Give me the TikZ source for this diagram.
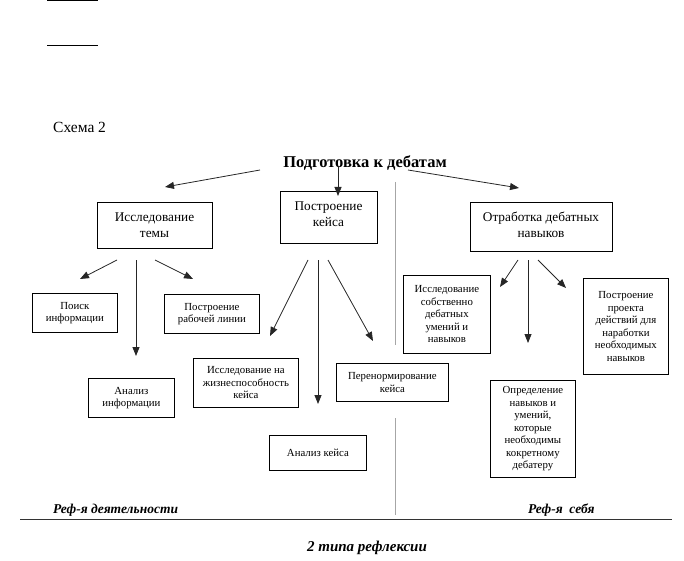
\documentclass[tikz,border=0pt]{standalone}
\usepackage{fontspec}
\setmainfont{Liberation Serif}
\usetikzlibrary{arrows.meta}
\tikzset{
  box/.style={draw, line width=0.8pt, fill=white, inner sep=0pt, anchor=north west},
  arr/.style={-{Triangle[length=9pt,width=7pt]}, line width=0.8pt, draw=black!85},
  tbig/.style={font=\fontsize{13.3}{16}\selectfont, align=center, inner sep=0pt, anchor=north},
  tsm/.style={font=\fontsize{10.8}{12.5}\selectfont, align=center},
  tital/.style={font=\fontsize{13.5}{15}\selectfont\bfseries\itshape, inner sep=0pt},
  sep/.style={draw=black!35, line width=0.7pt},
}
\begin{document}
\begin{tikzpicture}[x=1pt, y=-1pt]
\useasboundingbox (0,0) rectangle (684,561);
% top short lines
\coordinate (l1a) at (47,1); \coordinate (l1b) at (98,1);
\coordinate (l2a) at (47,46); \coordinate (l2b) at (98,46);
\draw[line width=1pt] (l1a) -- (l1b);
\draw[line width=1pt] (l2a) -- (l2b);
\node[font=\fontsize{15.5}{17}\selectfont, anchor=west, inner sep=0pt] (schema) at (53,127) {Схема 2};

% separator
\coordinate (s1a) at (395,182); \coordinate (s1b) at (395,345);
\coordinate (s2a) at (395,418); \coordinate (s2b) at (395,515);
\draw[sep] (s1a) -- (s1b);
\draw[sep] (s2a) -- (s2b);

% title
\node[font=\fontsize{16.5}{18}\selectfont\bfseries, inner sep=0pt] (title) at (365,163) {Подготовка к дебатам};

% level-1 boxes
\node[box, minimum width=115pt, minimum height=46pt] (temy) at (97,202) {};
\node[tbig] (temyt) at (154.5,213) {Исследование\\темы};
\node[box, minimum width=97pt, minimum height=52pt] (keys) at (280,191) {};
\node[tbig] (keyst) at (328.5,202) {Построение\\кейса};
\node[box, minimum width=142pt, minimum height=49pt] (otrab) at (470,202) {};
\node[tbig] (otrabt) at (541,212) {Отработка дебатных\\навыков};

% title arrows
\coordinate (a1s) at (260,170); \coordinate (a1e) at (165,187);
\coordinate (a2s) at (338,166); \coordinate (a2e) at (338,196);
\coordinate (a3s) at (408,170); \coordinate (a3e) at (519,188);
\draw[arr] (a1s) -- (a1e);
\draw[arr] (a2s) -- (a2e);
\draw[arr] (a3s) -- (a3e);

% level-2 boxes
\node[box, tsm, minimum width=85pt, minimum height=39pt] (poisk) at (32,293) {Поиск\\информации};
\node[box, tsm, minimum width=95pt, minimum height=39pt] (rabl) at (164,294) {Построение\\рабочей линии};
\node[box, tsm, minimum width=86pt, minimum height=39pt] (aninf) at (88,378) {Анализ\\информации};
\node[box, tsm, minimum width=105pt, minimum height=49pt] (zhizn) at (193,358) {Исследование на\\жизнеспособность\\кейса};
\node[box, tsm, minimum width=112pt, minimum height=38pt] (perenorm) at (336,363) {Перенормирование\\кейса};
\node[box, tsm, minimum width=97pt, minimum height=35pt] (ankeys) at (269,435) {Анализ кейса};
\node[box, tsm, minimum width=87pt, minimum height=78pt] (sobstv) at (403,275) {Исследование\\собственно\\дебатных\\умений и\\навыков};
\node[box, tsm, minimum width=85pt, minimum height=96pt] (proekt) at (583,278) {Построение\\проекта\\действий для\\наработки\\необходимых\\навыков};
\node[box, tsm, minimum width=85pt, minimum height=97pt] (opred) at (490,380) {Определение\\навыков и\\умений,\\которые\\необходимы\\кокретному\\дебатеру};

% arrows under temy
\coordinate (b1s) at (117,260); \coordinate (b1e) at (80,279);
\coordinate (b2s) at (136,260); \coordinate (b2e) at (136,356);
\coordinate (b3s) at (155,260); \coordinate (b3e) at (193,279);
\draw[arr] (b1s) -- (b1e);
\draw[arr] (b2s) -- (b2e);
\draw[arr] (b3s) -- (b3e);
% arrows under keys
\coordinate (c1s) at (308,260); \coordinate (c1e) at (270,336);
\coordinate (c2s) at (318,260); \coordinate (c2e) at (318,404);
\coordinate (c3s) at (328,260); \coordinate (c3e) at (373,341);
\draw[arr] (c1s) -- (c1e);
\draw[arr] (c2s) -- (c2e);
\draw[arr] (c3s) -- (c3e);
% arrows under otrab
\coordinate (d1s) at (518,260); \coordinate (d1e) at (500,287);
\coordinate (d2s) at (528,260); \coordinate (d2e) at (528,343);
\coordinate (d3s) at (538,260); \coordinate (d3e) at (566,288);
\draw[arr] (d1s) -- (d1e);
\draw[arr] (d2s) -- (d2e);
\draw[arr] (d3s) -- (d3e);

% bottom
\node[tital, anchor=west] (refd) at (53,510) {Реф-я деятельности};
\node[tital, anchor=west] (refs) at (528,510) {Реф-я\ \ себя};
\coordinate (ba) at (20,519); \coordinate (bb) at (672,519);
\draw[line width=1pt, draw=black!80] (ba) -- (bb);
\node[tital, font=\fontsize{15}{17}\selectfont\bfseries\itshape] (types) at (367,548) {2 типа рефлексии};
\end{tikzpicture}
\end{document}
